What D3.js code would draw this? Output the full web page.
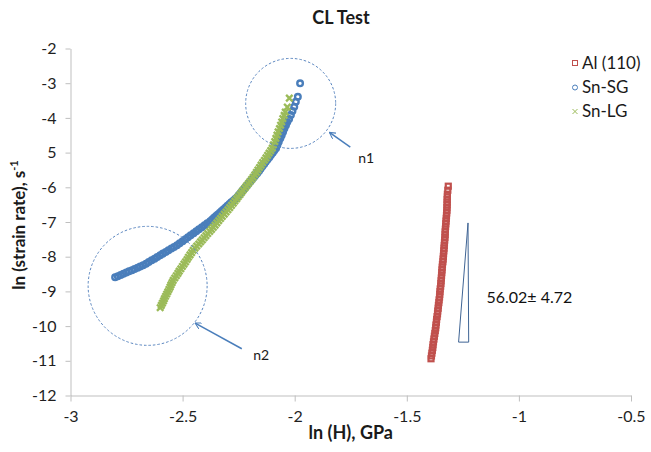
<!DOCTYPE html>
<html><head><meta charset="utf-8">
<script src="https://cdn.jsdelivr.net/npm/d3@7"></script>
<style>body{margin:0;background:#fff} svg text{font-family:Lato,"Open Sans",sans-serif}</style>
</head><body><svg id="c" width="651" height="452"></svg>
<script>
// ---------- data ----------
const chartTitle = "CL Test";
const xTicks = [-3, -2.5, -2, -1.5, -1, -0.5];
const xTickLabels = ["-3", "-2.5", "-2", "-1.5", "-1", "-0.5"];
const yTicks = [-2, -3, -4, -5, -6, -7, -8, -9, -10, -11, -12];
const yTickLabels = ["-2", "-3", "-4", "5", "-6", "-7", "-8", "-9", "-10", "-11", "-12"];
const seriesNames = ["Al (110)", "Sn-SG", "Sn-LG"];

const al110 = [
 [-1.315,-5.968],[-1.317,-6.084],[-1.319,-6.199],[-1.319,-6.276],[-1.320,-6.353],[-1.320,-6.430],[-1.320,-6.507],
 [-1.321,-6.584],[-1.321,-6.661],[-1.322,-6.739],[-1.323,-6.817],[-1.324,-6.895],[-1.325,-6.974],[-1.326,-7.052],
 [-1.327,-7.130],[-1.328,-7.208],[-1.329,-7.286],[-1.329,-7.364],[-1.330,-7.442],[-1.331,-7.520],[-1.332,-7.599],
 [-1.333,-7.677],[-1.334,-7.755],[-1.335,-7.833],[-1.336,-7.911],[-1.337,-7.989],[-1.338,-8.068],[-1.339,-8.146],
 [-1.341,-8.224],[-1.342,-8.302],[-1.343,-8.381],[-1.344,-8.459],[-1.345,-8.537],[-1.346,-8.615],[-1.347,-8.694],
 [-1.348,-8.772],[-1.349,-8.850],[-1.351,-8.928],[-1.352,-9.007],[-1.353,-9.085],[-1.354,-9.163],[-1.356,-9.244],
 [-1.357,-9.324],[-1.359,-9.405],[-1.360,-9.485],[-1.362,-9.566],[-1.363,-9.647],[-1.365,-9.727],[-1.367,-9.808],
 [-1.368,-9.888],[-1.370,-9.969],[-1.371,-10.049],[-1.373,-10.130],[-1.375,-10.211],[-1.377,-10.292],[-1.379,-10.373],
 [-1.381,-10.454],[-1.383,-10.536],[-1.384,-10.617],[-1.386,-10.698],[-1.388,-10.779],[-1.390,-10.860],[-1.392,-10.941]
];

const snSG = [
 [-2.801,-8.595],[-2.789,-8.562],[-2.776,-8.527],[-2.764,-8.492],[-2.751,-8.457],[-2.739,-8.422],[-2.726,-8.387],
 [-2.714,-8.352],[-2.701,-8.318],[-2.689,-8.283],[-2.676,-8.248],[-2.663,-8.200],[-2.651,-8.152],[-2.638,-8.104],
 [-2.625,-8.056],[-2.613,-8.008],[-2.600,-7.960],[-2.588,-7.911],[-2.575,-7.863],[-2.563,-7.815],[-2.550,-7.767],
 [-2.538,-7.719],[-2.525,-7.671],[-2.513,-7.613],[-2.500,-7.555],[-2.488,-7.498],[-2.476,-7.440],[-2.464,-7.382],
 [-2.451,-7.324],[-2.439,-7.267],[-2.427,-7.209],[-2.414,-7.151],[-2.402,-7.093],[-2.390,-7.036],[-2.377,-6.978],
 [-2.368,-6.929],[-2.360,-6.879],[-2.351,-6.830],[-2.343,-6.781],[-2.334,-6.731],[-2.326,-6.682],[-2.317,-6.632],
 [-2.308,-6.583],[-2.300,-6.533],[-2.291,-6.484],[-2.283,-6.434],[-2.274,-6.385],[-2.266,-6.335],[-2.257,-6.286],
 [-2.250,-6.228],[-2.242,-6.170],[-2.235,-6.113],[-2.227,-6.055],[-2.220,-5.997],[-2.212,-5.939],[-2.205,-5.882],
 [-2.197,-5.824],[-2.190,-5.766],[-2.182,-5.708],[-2.175,-5.651],[-2.167,-5.593],[-2.159,-5.527],[-2.152,-5.462],
 [-2.144,-5.396],[-2.136,-5.331],[-2.129,-5.265],[-2.121,-5.200],[-2.113,-5.134],[-2.106,-5.069],[-2.098,-5.003],
 [-2.091,-4.938],[-2.083,-4.872],[-2.077,-4.778],[-2.071,-4.684],[-2.064,-4.590],[-2.058,-4.497],[-2.052,-4.403],
 [-2.046,-4.309],[-2.039,-4.215],[-2.033,-4.121],[-2.025,-4.035],[-2.017,-3.919],[-2.010,-3.804],[-2.002,-3.680],
 [-1.995,-3.535],[-1.986,-3.391],[-1.976,-3.004]
];

const snLG = [
 [-2.600,-9.470],[-2.595,-9.404],[-2.590,-9.338],[-2.585,-9.273],[-2.581,-9.207],[-2.576,-9.141],[-2.571,-9.076],
 [-2.566,-9.010],[-2.561,-8.944],[-2.556,-8.878],[-2.552,-8.813],[-2.547,-8.747],[-2.542,-8.681],[-2.535,-8.614],
 [-2.528,-8.548],[-2.521,-8.481],[-2.515,-8.415],[-2.508,-8.348],[-2.501,-8.281],[-2.494,-8.215],[-2.487,-8.148],
 [-2.480,-8.081],[-2.474,-8.015],[-2.467,-7.948],[-2.460,-7.882],[-2.453,-7.815],[-2.445,-7.755],[-2.437,-7.695],
 [-2.428,-7.634],[-2.420,-7.574],[-2.412,-7.514],[-2.404,-7.453],[-2.396,-7.393],[-2.388,-7.333],[-2.379,-7.272],
 [-2.371,-7.212],[-2.363,-7.152],[-2.355,-7.089],[-2.347,-7.026],[-2.339,-6.963],[-2.331,-6.900],[-2.323,-6.837],
 [-2.314,-6.774],[-2.306,-6.711],[-2.298,-6.648],[-2.290,-6.585],[-2.282,-6.522],[-2.274,-6.459],[-2.267,-6.397],
 [-2.259,-6.334],[-2.252,-6.272],[-2.244,-6.209],[-2.237,-6.147],[-2.230,-6.084],[-2.222,-6.022],[-2.215,-5.959],
 [-2.207,-5.897],[-2.200,-5.834],[-2.192,-5.772],[-2.185,-5.709],[-2.178,-5.639],[-2.171,-5.569],[-2.164,-5.500],
 [-2.157,-5.430],[-2.150,-5.360],[-2.143,-5.290],[-2.135,-5.221],[-2.128,-5.151],[-2.121,-5.081],[-2.114,-5.011],
 [-2.107,-4.942],[-2.100,-4.872],[-2.095,-4.778],[-2.089,-4.683],[-2.084,-4.589],[-2.079,-4.494],[-2.074,-4.400],
 [-2.068,-4.305],[-2.063,-4.211],[-2.058,-4.116],[-2.053,-4.022],[-2.047,-3.927],[-2.042,-3.833],[-2.033,-3.688],
 [-2.024,-3.429]
];

// annotations (data coordinates)
const noteCircles = [[-2.018, -3.582], [-2.656, -8.840]];
const noteArrows = [[[-1.752, -4.843], [-1.845, -4.419]], [[-2.236, -10.652], [-2.444, -9.913]]];
const noteLabels = [["n1", -1.717, -5.30], ["n2", -2.185, -10.99]];
const slopeTriangle = [[-1.227, -7.027], [-1.269, -10.462], [-1.224, -10.462]];
const slopeText = ["56.02\u00b1 4.72", -1.145, -9.32];

// ---------- drawing ----------
const svg = d3.select("#c");
const W = 651, H = 452;
const x = d3.scaleLinear().domain([-3, -0.5]).range([70.5, 631]);
const y = d3.scaleLinear().domain([-12, -2]).range([395.5, 48.5]);
const axisColor = "#bfbfbf", textColor = "#1f1f1f";
const cBlue = "#4a7ebb", cRed = "#c0504d", cGreen = "#9bbb59";

svg.append("rect").attr("width", W).attr("height", H).attr("fill", "#fff");

// axes
const gx = svg.append("g").attr("transform", `translate(0,${y(-12)})`)
  .call(d3.axisBottom(x).tickValues(xTicks).tickFormat((d, i) => xTickLabels[i]).tickSize(6).tickSizeOuter(0));
const gy = svg.append("g").attr("transform", `translate(${x(-3)},0)`)
  .call(d3.axisLeft(y).tickValues(yTicks).tickFormat((d, i) => yTickLabels[i]).tickSize(5).tickSizeOuter(0).tickPadding(9));
[gx, gy].forEach(g => {
  g.attr("font-family", 'Lato,"Open Sans",sans-serif').attr("font-size", 16);
  g.select(".domain").attr("stroke", axisColor);
  g.selectAll(".tick line").attr("stroke", axisColor);
  g.selectAll(".tick text").attr("fill", textColor);
});
gx.selectAll(".tick text").attr("y", 26).attr("dy", 0);

// series
const gAl = svg.append("g");
gAl.selectAll("rect").data(al110).join("rect")
  .attr("x", d => x(d[0]) - 2.5).attr("y", d => y(d[1]) - 2.5)
  .attr("width", 5).attr("height", 5)
  .attr("fill", "none").attr("stroke", cRed).attr("stroke-width", 2.2);

const gSG = svg.append("g");
gSG.selectAll("circle").data(snSG).join("circle")
  .attr("cx", d => x(d[0])).attr("cy", d => y(d[1])).attr("r", 2.8)
  .attr("fill", "none").attr("stroke", cBlue).attr("stroke-width", 2.4);

const gLG = svg.append("g");
gLG.selectAll("path").data(snLG).join("path")
  .attr("transform", d => `translate(${x(d[0])},${y(d[1])})`)
  .attr("d", "M-3.2,-3.2L3.2,3.2M-3.2,3.2L3.2,-3.2")
  .attr("fill", "none").attr("stroke", cGreen).attr("stroke-width", 2.4);

// annotation circles
const circleR = [45, 59.5];
svg.selectAll(".nc").data(noteCircles).join("circle").attr("class", "nc")
  .attr("cx", d => x(d[0])).attr("cy", d => y(d[1])).attr("r", (d, i) => circleR[i])
  .attr("fill", "none").attr("stroke", "#5a86c0").attr("stroke-width", 1)
  .attr("stroke-dasharray", "2.5,2");

// arrows
const defs = svg.append("defs");
defs.append("marker").attr("id", "ah").attr("viewBox", "0 0 10 10").attr("refX", 9).attr("refY", 5)
  .attr("markerWidth", 7).attr("markerHeight", 7).attr("orient", "auto").attr("markerUnits", "userSpaceOnUse")
  .append("path").attr("d", "M0,0L9,5L0,10").attr("fill", "none").attr("stroke", cBlue).attr("stroke-width", 1.5);
noteArrows.forEach(a => {
  svg.append("line").attr("x1", x(a[0][0])).attr("y1", y(a[0][1]))
    .attr("x2", x(a[1][0])).attr("y2", y(a[1][1]))
    .attr("stroke", cBlue).attr("stroke-width", 1.5).attr("marker-end", "url(#ah)");
});
noteLabels.forEach(l => {
  svg.append("text").attr("x", x(l[1])).attr("y", y(l[2])).attr("font-size", 14)
    .attr("fill", "#1a1a1a").text(l[0]);
});

// slope triangle
svg.append("path")
  .attr("d", d3.line().x(d => x(d[0])).y(d => y(d[1]))(slopeTriangle) + "Z")
  .attr("fill", "#fff").attr("stroke", "#3f6494").attr("stroke-width", 1);
svg.append("text").attr("x", x(slopeText[1])).attr("y", y(slopeText[2]))
  .attr("font-size", 16).attr("fill", "#111").text(slopeText[0]);

// title
svg.append("text").attr("x", 341).attr("y", 24).attr("text-anchor", "middle")
  .attr("font-size", 18).attr("font-weight", "bold").attr("fill", "#1a1a1a").text(chartTitle);

// axis titles
svg.append("text").attr("x", (x(-3) + x(-0.5)) / 2).attr("y", 439).attr("text-anchor", "middle")
  .attr("font-size", 18).attr("font-weight", "bold").attr("fill", "#1a1a1a").text("ln (H), GPa");
const yt = svg.append("text").attr("transform", "translate(25,225) rotate(-90)").attr("text-anchor", "middle")
  .attr("font-size", 17).attr("font-weight", "bold").attr("fill", "#1a1a1a");
yt.append("tspan").text("ln (strain rate), s");
yt.append("tspan").attr("font-size", 11).attr("dy", -7).text("-1");

// legend
const legY = [63, 87.5, 111.5];
const lg = svg.append("g");
lg.append("rect").attr("x", 572.5).attr("y", legY[0] - 2.5).attr("width", 5).attr("height", 5)
  .attr("fill", "none").attr("stroke", cRed).attr("stroke-width", 1);
lg.append("circle").attr("cx", 575).attr("cy", legY[1]).attr("r", 2.5)
  .attr("fill", "none").attr("stroke", cBlue).attr("stroke-width", 1);
lg.append("path").attr("transform", `translate(575,${legY[2]})`).attr("d", "M-2.5,-2.5L2.5,2.5M-2.5,2.5L2.5,-2.5")
  .attr("stroke", cGreen).attr("stroke-width", 1);
seriesNames.forEach((n, i) => {
  lg.append("text").attr("x", 582).attr("y", legY[i] + 5.5).attr("font-size", 17)
    .attr("fill", "#1a1a1a").text(n);
});
</script></body></html>
